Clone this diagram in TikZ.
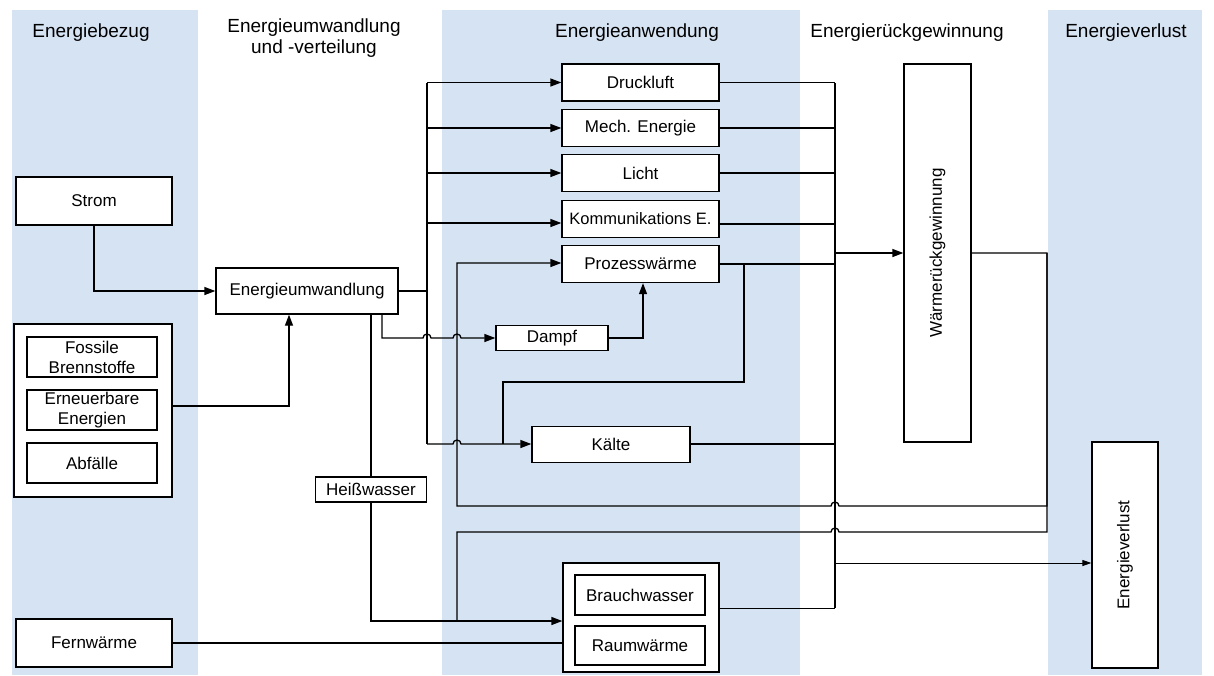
\documentclass[tikz,border=0pt]{standalone}
\usepackage{fontspec}
\setmainfont{Liberation Sans}
\usetikzlibrary{arrows.meta}
\definecolor{band}{RGB}{214,227,243}
\begin{document}
\begin{tikzpicture}[x=1pt,y=-1pt,
  box/.style={draw, line width=1.3pt, fill=white, inner sep=0pt, align=center,
              font=\fontsize{17}{20}\selectfont},
  head/.style={align=center, font=\fontsize{19}{21}\selectfont},
  wire/.style={line width=1.3pt},
  arr/.style={wire, -{Triangle[length=11pt,width=8pt]}},
  thinarr/.style={line width=1pt, -{Triangle[length=9pt,width=6pt]}},
]
\useasboundingbox (0,0) rectangle (1214,675);

% column bands
\fill[band] (12,10) rectangle (198,675);
\fill[band] (442,10) rectangle (800,675);
\fill[band] (1048,10) rectangle (1202,675);

% column headings
\node[head] (h1) at (91,33) {Energiebezug};
\node[head] (h2) at (314,38) {Energieumwandlung\\und -verteilung};
\node[head] (h3) at (637,33) {Energieanwendung};
\node[head] (h4) at (907,33) {Energierückgewinnung};
\node[head] (h5) at (1126,33) {Energieverlust};

% supply
\node[box, minimum width=156, minimum height=48] (strom) at (94,201) {Strom};
\node[box, minimum width=158, minimum height=173] (src) at (93,410.5) {};
\node[box, minimum width=130, minimum height=40] (fos) at (92,357) {Fossile\\Brennstoffe};
\node[box, minimum width=130, minimum height=40] (ern) at (92,410) {Erneuerbare\\Energien};
\node[box, minimum width=130, minimum height=40] (abf) at (92,463) {Abfälle};
\node[box, minimum width=156, minimum height=48] (fw) at (94,643) {Fernwärme};

% conversion
\node[box, minimum width=182, minimum height=46] (eu) at (307,291) {Energieumwandlung};
\node[box, minimum width=111, minimum height=25] (hw) at (371,489.5) {Heißwasser};

% application
\node[box, minimum width=157, minimum height=37] (dl) at (640.5,82.5) {Druckluft};
\node[box, minimum width=157, minimum height=37] (me) at (640.5,128) {Mech. Energie};
\node[box, minimum width=157, minimum height=37] (li) at (640.5,173) {Licht};
\node[box, minimum width=157, minimum height=37, font=\fontsize{16.5}{19}\selectfont] (ko) at (640.5,219) {Kommunikations E.};
\node[box, minimum width=157, minimum height=37] (pw) at (640.5,264) {Prozesswärme};
\node[box, minimum width=112, minimum height=25] (da) at (552,338) {Dampf};
\node[box, minimum width=158, minimum height=36] (ka) at (611,444.5) {Kälte};
\node[box, minimum width=156, minimum height=109] (grp) at (641,617.5) {};
\node[box, minimum width=130, minimum height=40] (bw) at (640,595) {Brauchwasser};
\node[box, minimum width=130, minimum height=39] (rw) at (640,645.5) {Raumwärme};

% recovery and loss (rotated: north is the left side, south the right side)
\node[box, rotate=90, minimum width=378, minimum height=67] (wrg) at (937.5,253) {Wärmerückgewinnung};
\node[box, rotate=90, minimum width=226, minimum height=66] (ev) at (1125,555) {Energieverlust};

% supply into conversion
\draw[arr] (strom.south) |- (eu.west);
\draw[arr] (src.east |- 0,406) -| (289,0 |- eu.south);

% distribution bus
\draw[wire] (eu.east) -- (427,291);
\draw[wire] (427,83) -- (427,444);
\draw[arr] (dl.west -| 427,0) -- (dl.west);
\draw[arr] (me.west -| 427,0) -- (me.west);
\draw[arr] (li.west -| 427,0) -- (li.west);
\draw[arr] (427,223) -- (ko.west |- 0,223);
\draw[arr] (427,444) -- (453,444) arc[start angle=180,end angle=360,radius=4] -- (ka.west |- 0,444);

% steam
\draw[arr] (382,0 |- eu.south) -- (382,338) -- (423,338) arc[start angle=180,end angle=360,radius=4]
  -- (453,338) arc[start angle=180,end angle=360,radius=4] -- (da.west);
\draw[arr] (da.east) -| (643,0 |- pw.south);

% process heat to cooling
\draw[wire] (744,264) -- (744,382) -- (503,382) -- (503,444);

% hot water and district heating
\draw[wire] (371,0 |- eu.south) -- (hw.north);
\draw[arr] (hw.south) -- (371,621) -- (grp.west |- 0,621);
\draw[wire] (fw.east) -- (grp.west |- fw.east);

% waste heat collector
\draw[wire] (dl.east) -- (835,0 |- dl.east);
\draw[wire] (me.east) -- (835,0 |- me.east);
\draw[wire] (li.east) -- (835,0 |- li.east);
\draw[wire] (ko.east |- 0,224) -- (835,224);
\draw[wire] (pw.east) -- (835,0 |- pw.east);
\draw[wire] (ka.east |- 0,444) -- (835,444);
\draw[line width=1pt] (grp.east |- 0,608) -- (835,608);
\draw[wire] (835,83) -- (835,608);
\draw[arr] (835,0 |- wrg.north) -- (wrg.north);
\draw[thinarr] (835,563) -- (ev.north |- 0,563);

% recovered heat back to users
\draw[arr] (wrg.south) -- (1047,0 |- wrg.south) -- (1047,506) -- (839,506)
  arc[start angle=0,end angle=-180,radius=4] -- (457,506) -- (457,263) -- (pw.west |- 0,263);
\draw[wire] (1047,253) -- (1047,532) -- (839,532)
  arc[start angle=0,end angle=-180,radius=4] -- (457,532) -- (457,621);
\end{tikzpicture}
\end{document}
